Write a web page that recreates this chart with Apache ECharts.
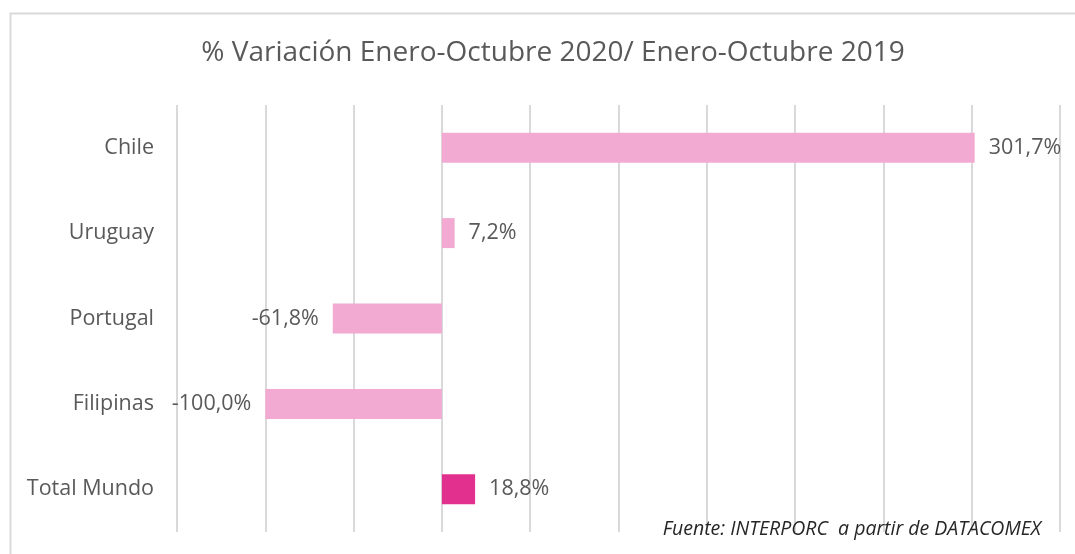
<!DOCTYPE html>
<html>
<head>
<meta charset="utf-8">
<script src="https://cdn.jsdelivr.net/npm/echarts@6/dist/echarts.min.js"></script>
<style>
  html, body { margin: 0; padding: 0; background: #fff; }
  #chart { width: 1075px; height: 554px; }
</style>
</head>
<body>
<div id="chart"></div>
<script>
// Countries, top to bottom
const categories = ['Chile', 'Uruguay', 'Portugal', 'Filipinas', 'Total Mundo'];
// % change Jan–Oct 2020 vs Jan–Oct 2019
const variation = [301.7, 7.2, -61.8, -100.0, 18.8];
const barColors = ['#F2AAD3', '#F2AAD3', '#F2AAD3', '#F2AAD3', '#E2308F'];

const fmt = v => v.toFixed(1).replace('.', ',') + '%';
const FONT = '"Open Sans"';

const chart = echarts.init(document.getElementById('chart'), null, { renderer: 'canvas' });
chart.setOption({
  backgroundColor: '#fff',
  animation: false,
  graphic: [{
    type: 'rect',
    shape: { x: 10.5, y: 13.5, width: 1100, height: 600 },
    style: { fill: 'none', stroke: '#d9d9d9', lineWidth: 2 },
    silent: true
  }],
  title: [{
    text: '% Variación Enero-Octubre 2020/ Enero-Octubre 2019',
    left: 548, top: 34, textAlign: 'center',
    textStyle: { fontFamily: FONT, fontWeight: 'normal', fontSize: 28, color: '#595959' }
  }, {
    text: 'Fuente: INTERPORC  a partir de DATACOMEX',
    left: 1036, top: 514, textAlign: 'right',
    textStyle: { fontFamily: FONT, fontStyle: 'italic', fontWeight: 'normal', fontSize: 19.5, color: '#262626' }
  }],
  grid: { left: 177, right: 15, top: 105, bottom: 22, containLabel: false },
  xAxis: {
    type: 'value', min: -150, max: 350, interval: 50,
    axisLabel: { show: false },
    axisLine: { show: false },
    axisTick: { show: false },
    splitLine: { show: true, lineStyle: { color: '#d9d9d9', width: 2 } }
  },
  yAxis: {
    type: 'category', data: categories, inverse: true,
    axisLine: { show: false },
    axisTick: { show: false },
    axisLabel: { margin: 23, fontFamily: FONT, fontSize: 21.5, color: '#595959', padding: [3, 0, 0, 0] }
  },
  series: [{
    type: 'bar',
    barWidth: 30,
    data: variation.map((v, i) => ({
      value: v,
      itemStyle: { color: barColors[i] },
      label: { position: v >= 0 ? 'right' : 'left' }
    })),
    label: {
      show: true, distance: 14,
      fontFamily: FONT, fontSize: 21.5, color: '#595959',
      padding: [3, 0, 0, 0],
      formatter: p => fmt(p.value)
    }
  }]
});
</script>
</body>
</html>
